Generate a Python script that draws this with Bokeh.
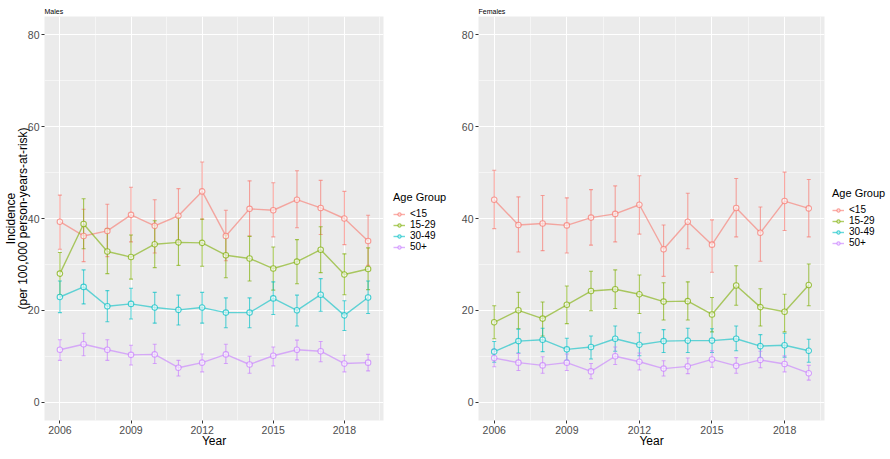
from bokeh.plotting import figure
from bokeh.models import (ColumnDataSource, Range1d, FixedTicker, Whisker, TeeHead,
                          Legend, LegendItem, LinearAxis)
from bokeh.layouts import row
from bokeh.embed import file_html
from bokeh.resources import INLINE

# ---------------- data ----------------
years = [2006, 2007, 2008, 2009, 2010, 2011, 2012, 2013, 2014, 2015, 2016, 2017, 2018, 2019]
age_groups = ["<15", "15-29", "30-49", "50+"]
colors = ["#F8766D", "#7CAE00", "#00BFC4", "#C77CFF"]
x_ticks = [2006, 2009, 2012, 2015, 2018]
y_ticks = [0, 20, 40, 60, 80]

# Males
m_u15 = [39.3, 36.2, 37.3, 40.8, 38.4, 40.6, 45.9, 36.2, 42.1, 41.8, 44.1, 42.3, 40.0, 35.1]
m_u15_hi = [45.1, 42.0, 43.1, 46.8, 44.1, 46.5, 52.3, 41.8, 48.2, 47.8, 50.4, 48.3, 45.9, 40.7]
m_u15_lo = [33.3, 30.6, 31.7, 34.9, 32.5, 34.9, 39.8, 30.8, 36.2, 36.0, 38.0, 36.5, 34.3, 29.8]

m_15_29 = [28.0, 38.8, 32.8, 31.6, 34.4, 34.8, 34.7, 32.0, 31.3, 29.1, 30.6, 33.2, 27.8, 29.0]
m_15_29_hi = [32.6, 44.3, 37.8, 36.4, 39.5, 40.2, 39.9, 36.4, 36.1, 33.8, 35.4, 38.2, 32.3, 33.6]
m_15_29_lo = [23.4, 33.4, 28.0, 26.8, 29.3, 29.8, 29.6, 27.1, 26.4, 24.4, 25.8, 28.2, 23.4, 24.5]

m_30_49 = [22.9, 25.1, 20.9, 21.4, 20.6, 20.1, 20.6, 19.5, 19.5, 22.6, 20.0, 23.4, 18.9, 22.8]
m_30_49_hi = [26.4, 28.8, 24.3, 24.8, 23.9, 23.3, 23.9, 22.7, 22.7, 26.2, 23.3, 26.9, 22.1, 26.4]
m_30_49_lo = [19.5, 21.4, 17.5, 18.1, 17.2, 16.8, 17.2, 16.2, 16.2, 19.1, 16.6, 19.8, 15.6, 19.3]

m_50p = [11.4, 12.6, 11.4, 10.3, 10.4, 7.5, 8.6, 10.4, 8.2, 10.1, 11.4, 11.1, 8.4, 8.6]
m_50p_hi = [13.6, 15.0, 13.6, 12.4, 12.6, 9.1, 10.5, 12.6, 10.0, 12.0, 13.5, 13.2, 10.2, 10.4]
m_50p_lo = [9.1, 10.1, 9.1, 8.1, 8.4, 5.7, 6.6, 8.4, 6.3, 7.9, 9.2, 8.8, 6.6, 6.8]

# Females
f_u15 = [44.1, 38.6, 38.9, 38.5, 40.2, 41.0, 43.0, 33.3, 39.3, 34.3, 42.3, 36.9, 43.8, 42.2]
f_u15_hi = [50.5, 44.7, 45.0, 44.5, 46.3, 47.1, 49.3, 38.6, 45.5, 39.7, 48.7, 42.5, 50.1, 48.5]
f_u15_lo = [37.8, 32.7, 33.0, 32.5, 34.2, 34.9, 36.6, 27.4, 33.4, 28.3, 36.0, 30.7, 37.4, 36.0]

f_15_29 = [17.4, 20.0, 18.2, 21.2, 24.2, 24.6, 23.5, 21.9, 22.0, 19.1, 25.4, 20.7, 19.7, 25.5]
f_15_29_hi = [21.0, 23.9, 21.8, 25.3, 28.5, 28.8, 27.7, 26.0, 26.2, 22.8, 29.7, 24.7, 23.5, 30.1]
f_15_29_lo = [13.8, 16.0, 14.4, 17.1, 19.9, 20.4, 19.3, 17.9, 17.9, 15.3, 21.1, 16.6, 15.3, 21.0]

f_30_49 = [11.0, 13.3, 13.6, 11.5, 12.0, 13.8, 12.5, 13.3, 13.4, 13.4, 13.8, 12.2, 12.4, 11.2]
f_30_49_hi = [13.2, 15.9, 16.1, 13.9, 14.4, 16.6, 15.1, 15.8, 16.1, 16.0, 16.6, 14.7, 15.0, 13.7]
f_30_49_lo = [8.7, 10.7, 11.0, 9.1, 9.4, 11.1, 10.1, 10.8, 10.8, 10.8, 11.2, 9.6, 9.8, 8.7]

f_50p = [9.6, 8.6, 8.0, 8.6, 6.7, 10.0, 8.8, 7.3, 7.8, 9.3, 7.9, 9.2, 8.3, 6.3]
f_50p_hi = [11.5, 10.6, 9.9, 10.5, 8.4, 12.0, 10.7, 9.0, 9.6, 11.2, 9.7, 11.1, 10.1, 8.0]
f_50p_lo = [7.7, 6.9, 6.3, 6.9, 5.1, 8.2, 7.0, 5.7, 6.2, 7.6, 6.3, 7.5, 6.6, 4.8]

males = [(m_u15, m_u15_lo, m_u15_hi), (m_15_29, m_15_29_lo, m_15_29_hi),
         (m_30_49, m_30_49_lo, m_30_49_hi), (m_50p, m_50p_lo, m_50p_hi)]
females = [(f_u15, f_u15_lo, f_u15_hi), (f_15_29, f_15_29_lo, f_15_29_hi),
           (f_30_49, f_30_49_lo, f_30_49_hi), (f_50p, f_50p_lo, f_50p_hi)]

FONT = "Liberation Sans"
H = 459
LINE_ALPHA = 0.6
PT_ALPHA = 0.7


def style_text_axis(ax, label, standoff):
    ax.axis_label = label
    ax.axis_label_text_font = FONT
    ax.axis_label_text_font_size = "12px"
    ax.axis_label_text_font_style = "normal"
    ax.axis_label_text_color = "black"
    ax.axis_label_standoff = standoff


def add_series(fig, series, with_bars):
    rends = []
    for (vals, lo, hi), col in zip(series, colors):
        src = ColumnDataSource(dict(x=years, y=vals, lo=lo, hi=hi))
        if with_bars:
            wh = Whisker(source=src, base="x", lower="lo", upper="hi", dimension="height",
                         line_color=col, line_alpha=0.65, line_width=1.1,
                         upper_head=TeeHead(size=4, line_color=col, line_alpha=0.65, line_width=1.1),
                         lower_head=TeeHead(size=4, line_color=col, line_alpha=0.65, line_width=1.1))
            fig.add_layout(wh)
        rl = fig.line("x", "y", source=src, line_color=col, line_alpha=LINE_ALPHA, line_width=1.4)
        rp = fig.scatter("x", "y", source=src, marker="circle", size=5.5,
                         line_color=col, line_alpha=PT_ALPHA, line_width=1.1,
                         fill_color="white", fill_alpha=0.6)
        rends.append((rl, rp))
    return rends


def make_panel(title, series, width, b_left, b_right, b_bottom, year_standoff, ylabel):
    p = figure(width=width, height=H, output_backend="svg", toolbar_location=None,
               x_range=Range1d(2005.35, 2019.65), y_range=Range1d(-4, 84),
               min_border_left=b_left, min_border_right=b_right,
               min_border_top=16, min_border_bottom=b_bottom)
    p.background_fill_color = "#EBEBEB"
    p.border_fill_color = "white"
    p.outline_line_color = None

    p.title.text = title
    p.title.text_font = FONT
    p.title.text_font_size = "7px"
    p.title.text_font_style = "normal"
    p.title.text_color = "black"
    p.title.align = "left"
    p.title.standoff = 3
    p.title.offset = 0

    p.xaxis.ticker = FixedTicker(ticks=x_ticks,
                                 minor_ticks=[2004.5, 2007.5, 2010.5, 2013.5, 2016.5, 2019.5])
    p.yaxis.ticker = FixedTicker(ticks=y_ticks, minor_ticks=[10, 30, 50, 70])
    for g in (p.xgrid, p.ygrid):
        g.grid_line_color = "white"
        g.grid_line_width = 1.1
        g.minor_grid_line_color = "white"
        g.minor_grid_line_width = 0.5
    for ax in (p.xaxis, p.yaxis):
        ax.axis_line_color = None
        ax.major_tick_line_color = "#333333"
        ax.major_tick_out = 3
        ax.major_tick_in = 0
        ax.minor_tick_line_color = None
        ax.major_label_text_color = "#4D4D4D"
        ax.major_label_text_font = FONT
        ax.major_label_text_font_size = "10.5px"
        ax.major_label_standoff = 1
    style_text_axis(p.xaxis[0], "Year", year_standoff)

    if ylabel:
        # inner axis carries the second line, an outer label-only axis the first
        style_text_axis(p.yaxis[0], ylabel[1], -5)
        outer = LinearAxis(ticker=FixedTicker(ticks=[]), axis_line_color=None,
                           major_tick_line_color=None, minor_tick_line_color=None)
        style_text_axis(outer, ylabel[0], -5)
        p.add_layout(outer, "left")

    add_series(p, series, True)
    return p


def make_legend(series, width, leg_x, leg_y):
    # legend lives in its own narrow figure; its renderers are off-range copies
    q = figure(width=width, height=H, output_backend="svg", toolbar_location=None,
               x_axis_type=None, y_axis_type=None,
               x_range=Range1d(0, 1), y_range=Range1d(0, 1),
               min_border=0)
    q.outline_line_color = None
    q.background_fill_color = "white"
    q.grid.visible = False
    rends = add_series(q, series, False)
    items = [LegendItem(label=name, renderers=[rl, rp])
             for name, (rl, rp) in zip(age_groups, rends)]
    legend = Legend(items=items, title="Age Group", location=(leg_x, leg_y),
                    title_text_font=FONT, title_text_font_size="11px",
                    title_text_font_style="normal", title_text_color="black",
                    title_standoff=5,
                    label_text_font=FONT, label_text_font_size="10px",
                    label_text_line_height=0.85,
                    label_text_color="black",
                    glyph_width=12, glyph_height=8, label_height=8, spacing=0,
                    label_standoff=5, padding=1, margin=0,
                    border_line_color=None, background_fill_alpha=0)
    q.add_layout(legend)
    return q


p1 = make_panel("Males", males, 390, 44, 7, 32, -3,
                ["Incidence", "(per 100,000 person-years-at-risk)"])
l1 = make_legend(males, 65, 3, 168)
p2 = make_panel("Females", females, 371, 23, 2, 39, -3, None)
l2 = make_legend(females, 64, 6, 172)

layout = row(p1, l1, p2, l2)
open("out.html", "w").write(file_html(layout, INLINE))
